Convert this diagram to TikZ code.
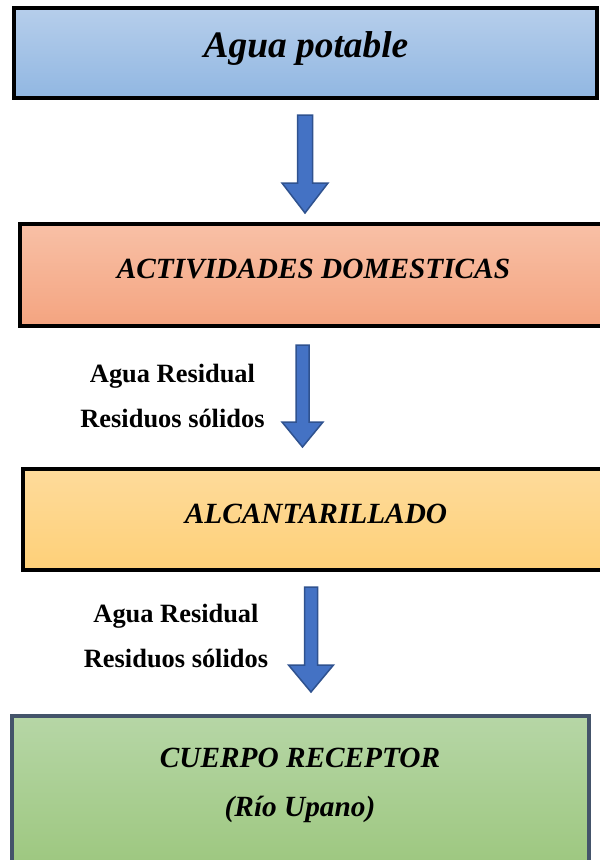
\documentclass[tikz,border=0pt]{standalone}
\usepackage{fontspec}
\setmainfont{Liberation Serif}
\usetikzlibrary{calc}
\definecolor{b1t}{HTML}{B6CEEB}\definecolor{b1b}{HTML}{91B7E2}
\definecolor{b2t}{HTML}{F8C0A6}\definecolor{b2b}{HTML}{F4A480}
\definecolor{b3t}{HTML}{FEDB9B}\definecolor{b3b}{HTML}{FED078}
\definecolor{b4t}{HTML}{B6D6A6}\definecolor{b4b}{HTML}{9BC67C}
\definecolor{arrfill}{HTML}{4472C4}\definecolor{arrline}{HTML}{2F528F}
\definecolor{slate}{HTML}{44546A}
\tikzset{
  flowbox/.style={draw=black, line width=4pt, inner sep=0pt, outer sep=0pt},
  greenbox/.style={draw=slate, line width=3.5pt, inner sep=0pt, outer sep=0pt},
  boxtext/.style={font=\fontsize{29.3}{34}\selectfont\bfseries\itshape, inner sep=0pt, anchor=base},
  bigtext/.style={font=\fontsize{37.4}{42}\selectfont\bfseries\itshape, inner sep=0pt, anchor=base},
  labeltext/.style={font=\fontsize{26.4}{30}\selectfont\bfseries, inner sep=0pt, anchor=base},
  blockarrow/.style={fill=arrfill, draw=arrline, line width=1.5pt, line join=miter}
}
% #1 top coord, #2 tip coord, #3 head start offset from top, #4 half shaft, #5 half head
\newcommand\myblockarrow[5]{%
  \draw[blockarrow] ($(#1)+(-#4,0)$) -- ($(#1)+(#4,0)$) -- ($(#1)+(#4,#3)$)
    -- ($(#1)+(#5,#3)$) -- (#2) -- ($(#1)+(-#5,#3)$) -- ($(#1)+(-#4,#3)$) -- cycle;
}
\begin{document}
\begin{tikzpicture}[x=1pt,y=-1pt]
\clip (0,0) rectangle (600,860);
\fill[white] (0,0) rectangle (600,860);

% boxes
\node[flowbox, top color=b1t, bottom color=b1b, minimum width=583pt, minimum height=90pt] (box1) at (305.5,53) {};
\node[bigtext] (t1) at (306,57) {Agua potable};

\node[flowbox, top color=b2t, bottom color=b2b, minimum width=585pt, minimum height=102pt] (box2) at (312.5,275) {};
\node[boxtext] (t2) at (313.5,278) {ACTIVIDADES DOMESTICAS};

\node[flowbox, top color=b3t, bottom color=b3b, minimum width=586pt, minimum height=101pt] (box3) at (316,519.5) {};
\node[boxtext] (t3) at (316,523) {ALCANTARILLADO};

\node[greenbox, top color=b4t, bottom color=b4b, minimum width=577pt, minimum height=164pt] (box4) at (300.5,798) {};
\node[boxtext] (t4a) at (300,767) {CUERPO RECEPTOR};
\node[boxtext] (t4b) at (300,816) {(Río Upano)};

% labels
\node[labeltext] (l1a) at (172.5,382) {Agua Residual};
\node[labeltext] (l1b) at (172.5,427) {Residuos sólidos};
\node[labeltext] (l2a) at (176,622) {Agua Residual};
\node[labeltext] (l2b) at (176,667) {Residuos sólidos};

% arrows
\coordinate (a1s) at (305,115);
\coordinate (a1e) at (305,213);
\myblockarrow{a1s}{a1e}{68}{7.5}{23}
\coordinate (a2s) at (302.5,345);
\coordinate (a2e) at (302.5,447);
\myblockarrow{a2s}{a2e}{77}{6.5}{20.5}
\coordinate (a3s) at (311,587);
\coordinate (a3e) at (311,692);
\myblockarrow{a3s}{a3e}{78}{6.5}{22.5}
\end{tikzpicture}
\end{document}
